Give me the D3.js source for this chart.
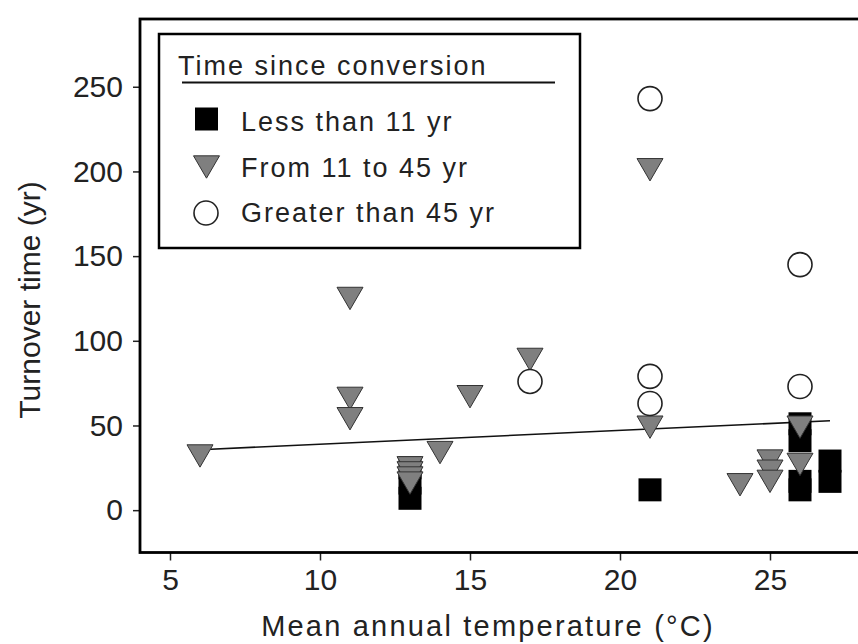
<!DOCTYPE html>
<html>
<head>
<meta charset="utf-8">
<script src="https://cdn.jsdelivr.net/npm/d3@7"></script>
<style>
  html, body { margin: 0; padding: 0; background: #fff; }
  svg text { font-family: "Liberation Sans", Arial, Helvetica, sans-serif; fill: #222; }
</style>
</head>
<body>
<div id="chart"></div>
<script>
// Time since conversion: less than 11 yr (squares)
const lessTemp = [13, 13, 13, 21, 26, 26, 26, 26, 27, 27];
const lessTurnover = [7, 16, 25, 12, 51, 41, 17, 12, 29, 17];

// from 11 to 45 yr (grey triangles)
const midTemp = [6, 11, 11, 11, 13, 13, 13, 13, 14, 15, 17, 21, 21, 24, 25, 25, 25, 26, 26];
const midTurnover = [32, 125, 66, 54, 25, 22, 19, 16, 34, 67, 89, 201, 49, 15, 29, 23, 17, 49, 27];

// greater than 45 yr (open circles)
const oldTemp = [17, 21, 21, 21, 26, 26];
const oldTurnover = [76, 243, 79, 63, 145, 73];

// fitted line end points
const fitTemp = [6, 27];
const fitTurnover = [35.7, 52.8];

const xTicks = [5, 10, 15, 20, 25];
const yTicks = [0, 50, 100, 150, 200, 250];
const legendLabels = ["Less than 11 yr", "From 11 to 45 yr", "Greater than 45 yr"];

const width = 858, height = 644;
const plotLeft = 140, plotTop = 19, plotBottom = 552.5, plotRight = 875;

const svg = d3.select("#chart").append("svg")
    .attr("width", width)
    .attr("height", height);

const x = d3.scaleLinear().domain([4, 28.5]).range([plotLeft, plotRight]);
const y = d3.scaleLinear().domain([-25, 290]).range([plotBottom, plotTop]);

// down pointing triangle centred on its bounding box
const triangleDown = {
  draw(ctx, size) {
    const w = Math.sqrt(size), h = w * 0.86;
    ctx.moveTo(-w / 2, -h / 2);
    ctx.lineTo(w / 2, -h / 2);
    ctx.lineTo(0, h / 2);
    ctx.closePath();
  }
};

// axes
const xAxis = svg.append("g")
    .attr("transform", "translate(0," + plotBottom + ")")
    .call(d3.axisBottom(x).tickValues(xTicks).tickSize(8).tickPadding(8));
const yAxis = svg.append("g")
    .attr("transform", "translate(" + plotLeft + ",0)")
    .call(d3.axisLeft(y).tickValues(yTicks).tickSize(7).tickPadding(10));

[xAxis, yAxis].forEach(a => {
  a.select(".domain").remove();
  a.selectAll(".tick line").attr("stroke", "#222").attr("stroke-width", 1.5);
  a.selectAll(".tick text")
      .style("font-size", "30px")
      .style("font-family", "'Liberation Sans', Arial, sans-serif")
      .attr("fill", "#222");
});

// frame (right side runs off the picture)
svg.append("rect")
    .attr("x", plotLeft)
    .attr("y", plotTop)
    .attr("width", plotRight - plotLeft)
    .attr("height", plotBottom - plotTop)
    .attr("fill", "none")
    .attr("stroke", "#000")
    .attr("stroke-width", 2.8);

// axis titles
svg.append("text")
    .attr("x", 488)
    .attr("y", 636)
    .attr("text-anchor", "middle")
    .style("font-size", "29px")
    .style("letter-spacing", "2.2px")
    .text("Mean annual temperature (°C)");

svg.append("text")
    .attr("transform", "translate(40,300) rotate(-90)")
    .attr("text-anchor", "middle")
    .style("font-size", "30px")
    .text("Turnover time (yr)");

// fitted line
svg.append("line")
    .attr("x1", x(fitTemp[0]))
    .attr("y1", y(fitTurnover[0]))
    .attr("x2", x(fitTemp[1]))
    .attr("y2", y(fitTurnover[1]))
    .attr("stroke", "#111")
    .attr("stroke-width", 1.6);

// points
const squarePath = d3.symbol().type(d3.symbolSquare).size(23 * 23);
const triPath = d3.symbol().type(triangleDown).size(26 * 26);

svg.append("g").selectAll("path")
    .data(lessTemp.map((t, i) => [t, lessTurnover[i]]))
    .enter().append("path")
    .attr("d", squarePath)
    .attr("transform", d => "translate(" + x(d[0]) + "," + y(d[1]) + ")")
    .attr("fill", "#000");

svg.append("g").selectAll("path")
    .data(midTemp.map((t, i) => [t, midTurnover[i]]))
    .enter().append("path")
    .attr("d", triPath)
    .attr("transform", d => "translate(" + x(d[0]) + "," + y(d[1]) + ")")
    .attr("fill", "#7f7f7f")
    .attr("stroke", "#333")
    .attr("stroke-width", 1);

svg.append("g").selectAll("circle")
    .data(oldTemp.map((t, i) => [t, oldTurnover[i]]))
    .enter().append("circle")
    .attr("cx", d => x(d[0]))
    .attr("cy", d => y(d[1]))
    .attr("r", 12)
    .attr("fill", "#fff")
    .attr("stroke", "#222")
    .attr("stroke-width", 1.6);

// legend
const legend = svg.append("g");
legend.append("rect")
    .attr("x", 159)
    .attr("y", 34)
    .attr("width", 421)
    .attr("height", 214)
    .attr("fill", "#fff")
    .attr("stroke", "#000")
    .attr("stroke-width", 2.5);

legend.append("text")
    .attr("x", 178)
    .attr("y", 75)
    .style("font-size", "27px")
    .style("letter-spacing", "2px")
    .text("Time since conversion");

legend.append("line")
    .attr("x1", 182)
    .attr("x2", 555)
    .attr("y1", 82.5)
    .attr("y2", 82.5)
    .attr("stroke", "#111")
    .attr("stroke-width", 2);

const rowY = [119, 167, 213];
legend.append("path")
    .attr("d", squarePath)
    .attr("transform", "translate(206.5," + rowY[0] + ")")
    .attr("fill", "#000");
legend.append("path")
    .attr("d", triPath)
    .attr("transform", "translate(206.5," + rowY[1] + ")")
    .attr("fill", "#7f7f7f")
    .attr("stroke", "#333")
    .attr("stroke-width", 1);
legend.append("circle")
    .attr("cx", 206)
    .attr("cy", rowY[2])
    .attr("r", 12)
    .attr("fill", "#fff")
    .attr("stroke", "#222")
    .attr("stroke-width", 1.6);

legend.selectAll("text.entry")
    .data(legendLabels)
    .enter().append("text")
    .attr("class", "entry")
    .attr("x", 241)
    .attr("y", (d, i) => [130.5, 176.5, 222][i])
    .style("font-size", "27px")
    .style("letter-spacing", "2px")
    .text(d => d);
</script>
</body>
</html>
